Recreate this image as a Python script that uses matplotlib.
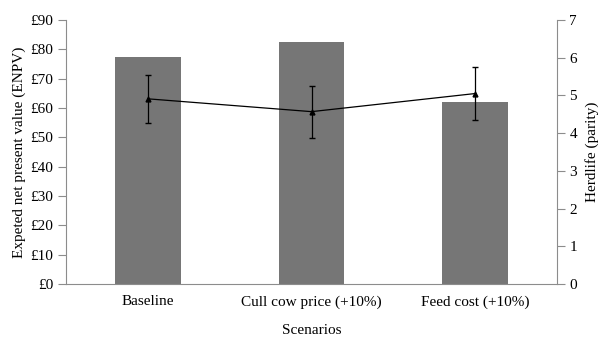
import matplotlib.pyplot as plt
import numpy as np

plt.rcParams['font.family'] = ['Liberation Serif', 'DejaVu Serif']

# data
SCENARIOS = ["Baseline", "Cull cow price (+10%)", "Feed cost (+10%)"]
ENPV = [77.4, 82.5, 62.0]
HERDLIFE = [4.91, 4.57, 5.05]
HERDLIFE_ERR = [0.63, 0.69, 0.70]

AXIS_GREY = '#8c8c8c'
FS = 11

fig = plt.figure(figsize=(6.01, 3.41), dpi=100)
ax = fig.add_axes([66 / 601, 1 - 284 / 341, (557 - 66) / 601, (284 - 20) / 341])
x = np.arange(len(SCENARIOS))

ax.bar(x, ENPV, width=0.4, color='#767676', zorder=2)
ax.set_xlim(-0.5, 2.5)
ax.set_ylim(0, 90)
ax.set_yticks(np.arange(0, 91, 10))
ax.set_yticklabels([f"£{v}" for v in range(0, 91, 10)])
ax.set_xticks(x)
ax.set_xticklabels(SCENARIOS)
ax.set_xlabel("Scenarios", fontsize=FS, labelpad=11)
ax.set_ylabel("Expeted net present value (ENPV)", fontsize=FS, labelpad=3)

ax2 = ax.twinx()
ax2.errorbar(x, HERDLIFE, yerr=HERDLIFE_ERR, color='black', lw=0.9,
             marker='^', markersize=3.5, capsize=2.5, elinewidth=0.9, zorder=3)
ax2.set_ylim(0, 7)
ax2.set_yticks(range(0, 8))
ax2.set_ylabel("Herdlife (parity)", fontsize=FS, labelpad=6)

for a in (ax, ax2):
    a.spines['top'].set_visible(False)
    for s in ('left', 'right', 'bottom'):
        a.spines[s].set_color(AXIS_GREY)
    a.tick_params(axis='y', colors=AXIS_GREY, labelcolor='black',
                  labelsize=FS, length=6, width=0.8, pad=3)
    a.tick_params(axis='x', length=0, labelsize=FS, pad=8)

ax.spines['right'].set_visible(False)
ax2.spines['left'].set_visible(False)
ax2.spines['bottom'].set_visible(False)

fig.savefig("out.png", dpi=100)
